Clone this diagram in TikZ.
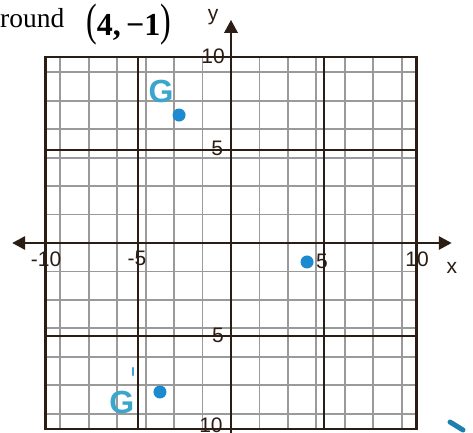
\documentclass[tikz,border=0pt]{standalone}
\usepackage{fontspec}
\usepackage{graphicx}
\setmainfont{Liberation Serif}
\newfontfamily\lsans{Liberation Sans}
\usetikzlibrary{arrows.meta}
\definecolor{ink}{HTML}{2B1D14}
\definecolor{gridgray}{HTML}{9A9A9A}
\definecolor{dotblue}{HTML}{1C8ACF}
\definecolor{penblue}{HTML}{3AA6CC}
\definecolor{strokeblue}{HTML}{1E7FB0}
\begin{document}
\begin{tikzpicture}[x=1pt,y=-1pt,
  minor/.style={gridgray, line width=1.8pt},
  major/.style={ink, line width=2.4pt},
  axisline/.style={ink, line width=2.8pt},
  ticklbl/.style={font=\lsans\fontsize{21}{21}\selectfont, text=ink, inner sep=0pt},
  dot/.style={circle, fill=dotblue, minimum size=13pt, inner sep=0pt},
  pen/.style={text=penblue, font=\lsans\bfseries\fontsize{32}{32}\selectfont, inner sep=0pt}]
\useasboundingbox (0,0) rectangle (473,432);
\fill[white] (0,0) rectangle (473,432);
% heading text
\node[anchor=base west, inner sep=0pt, font=\fontsize{27.5}{27.5}\selectfont] (hround) at (0,27) {round};
\node[anchor=base west, inner sep=0pt, font=\fontsize{32}{32}\selectfont] (hpoint) at (86,35)
  {\scalebox{1}[1.42]{(}\textbf{4,\,−1}\scalebox{1}[1.42]{)}};
\begin{scope}[shift={(231,243)}, x=18.55pt, y=18.6pt]
  \draw[minor] (-10,-10) grid (10,10);
  \foreach \v in {-5,5} {
    \draw[major] (\v,-10) -- (\v,10);
    \draw[major] (-10,\v) -- (10,\v);
  }
  \draw[major] (-10,-10) rectangle (10,10);
  \coordinate (xl) at (-11.8,0);
  \coordinate (xr) at (11.9,0);
  \coordinate (yt) at (0,12.0);
  \coordinate (yb) at (0,-10.4);
  \draw[axisline, {Triangle[width=13pt,length=13pt]}-{Triangle[width=13pt,length=13pt]}] (xl) -- (xr);
  \draw[axisline, -{Triangle[width=13pt,length=13pt]}] (yb) -- (yt);
  % tick labels
  \node[ticklbl] (lxm10) at (-9.97,-0.86) {-10};
  \node[ticklbl] (lxm5) at (-5.07,-0.8) {-5};
  \node[ticklbl] (lx5) at (4.9,-0.97) {5};
  \node[ticklbl] (lx10) at (10.03,-0.86) {10};
  \node[ticklbl] (lx) at (11.9,-1.34) {x};
  \node[ticklbl] (ly) at (-0.97,12.15) {y};
  \node[ticklbl] (ly10) at (-0.97,10.05) {10};
  \node[ticklbl] (ly5) at (-0.75,5.1) {5};
  \node[ticklbl] (lym5) at (-0.7,-4.95) {5};
  \node[ticklbl] (lym10) at (-1.08,-9.8) {10};
  % points
  \node[dot] (G) at (-2.8,6.88) {};
  \node[dot] (C) at (4.1,-1.02) {};
  \node[dot] (Gp) at (-3.83,-8.01) {};
  \node[pen] (Glbl) at (-3.77,8.17) {G};
  \node[pen] (Gplbl) at (-5.88,-8.55) {G};
\end{scope}
\draw[penblue, line width=2.5pt, line cap=round] (133,368) -- (133,375);
\draw[strokeblue, line width=5pt, line cap=round] (450,422) -- (463,430);
\end{tikzpicture}
\end{document}
